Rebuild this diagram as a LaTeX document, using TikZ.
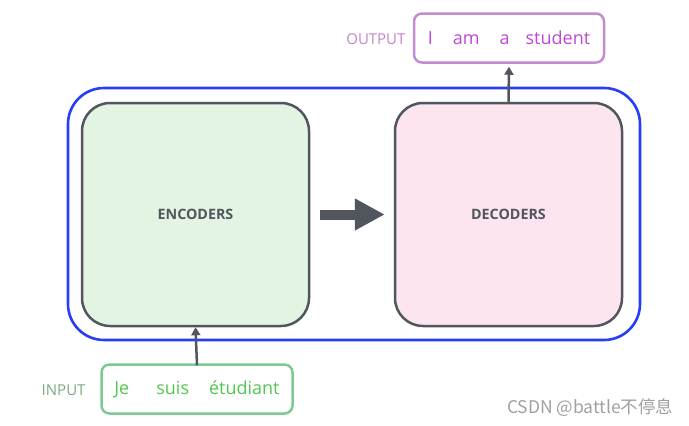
\documentclass[tikz,border=0pt]{standalone}
\usepackage{fontspec}
\setmainfont{Open Sans}
\newfontfamily\cjkfont{Noto Sans CJK SC}
\usetikzlibrary{arrows.meta}
\definecolor{outerblue}{RGB}{40,62,245}
\definecolor{boxgray}{RGB}{81,86,94}
\definecolor{encfill}{RGB}{227,244,227}
\definecolor{decfill}{RGB}{253,229,239}
\definecolor{outstroke}{RGB}{194,140,207}
\definecolor{outtext}{RGB}{190,70,212}
\definecolor{outlabel}{RGB}{196,130,205}
\definecolor{instroke}{RGB}{125,201,145}
\definecolor{intext}{RGB}{80,200,80}
\definecolor{inlabel}{RGB}{120,170,130}
\definecolor{wmgray}{RGB}{160,160,160}
\tikzset{
  coder/.style={draw=boxgray, line width=2.5pt, rounded corners=28pt, minimum width=227pt, minimum height=223pt, inner sep=0pt, text=boxgray, font=\fontsize{14.3}{17}\selectfont\bfseries},
  iobox/.style={line width=2.5pt, rounded corners=8pt, minimum height=49pt, inner sep=0pt, font=\fontsize{18}{21}\selectfont},
  iolabel/.style={font=\fontsize{15}{18}\selectfont, anchor=east},
  smallarrow/.style={draw=boxgray, line width=2.5pt, -{Triangle[length=8pt,width=9pt]}},
}
\begin{document}
\begin{tikzpicture}[x=1pt,y=-1pt]
\useasboundingbox (0,0) rectangle (689,426);
\draw[outerblue, line width=2.6pt, rounded corners=36pt] (68,88) rectangle (640,340);
\node[coder, fill=encfill] (enc) at (195.5,214.5) {ENCODERS};
\node[coder, fill=decfill] (dec) at (508.5,214.5) {DECODERS};
\draw[boxgray, line width=10pt, -{Triangle[length=30pt,width=30pt]}] ([xshift=10pt]enc.east) -- ([xshift=-9pt]dec.west);
\node[iobox, draw=outstroke, text=outtext, minimum width=190pt] (out) at (509,38) {I\hspace{20pt}am\hspace{20pt}a\hspace{16pt}student};
\node[iolabel, text=outlabel] (outl) at (409,39) {OUTPUT};
\draw[smallarrow] (dec.north) -- ([yshift=-3pt]out.south);
\node[iobox, draw=instroke, text=intext, minimum width=191pt] (in) at (197,389) {Je\hspace{27pt}suis\hspace{20pt}étudiant};
\node[iolabel, text=inlabel] (inl) at (89,390) {INPUT};
\draw[smallarrow] ([yshift=-2pt]in.north) -- (enc.south);
\node[text=wmgray, font=\cjkfont\fontsize{17.5}{20}\selectfont, anchor=east] (wm) at (677,408) {CSDN @battle不停息};
\end{tikzpicture}
\end{document}
